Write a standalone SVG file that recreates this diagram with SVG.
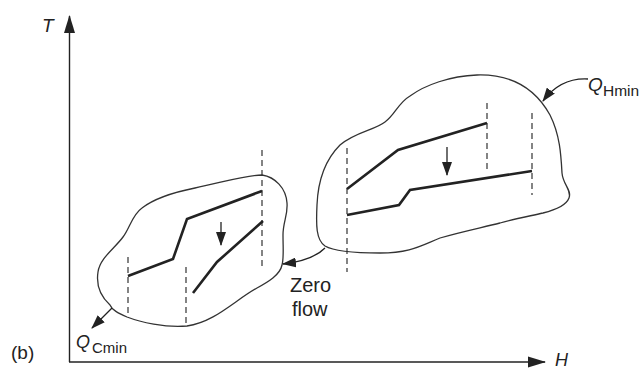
<svg xmlns="http://www.w3.org/2000/svg" width="644" height="370" viewBox="0 0 644 370">
<style>
.ax{stroke:#222;stroke-width:1.4;fill:none}
.blob{stroke:#333;stroke-width:1.3;fill:none}
.hot{stroke:#222;stroke-width:2.6;fill:none;stroke-linejoin:miter}
.dash{stroke:#333;stroke-width:1.2;stroke-dasharray:6,4;fill:none}
.thin{stroke:#222;stroke-width:1.3;fill:none}
text{font-family:"Liberation Sans",Arial,sans-serif;fill:#222}
.it{font-style:italic}
</style>
<defs>
<marker id="ah" markerWidth="14" markerHeight="10" refX="13" refY="5" orient="auto" markerUnits="userSpaceOnUse">
<path d="M0,0 L14,5 L0,10 Z" fill="#222"/>
</marker>
<marker id="ax" markerWidth="18" markerHeight="12" refX="17" refY="6" orient="auto" markerUnits="userSpaceOnUse">
<path d="M0,0.5 L18,6 L0,11.5 Z" fill="#222"/>
</marker>
</defs>
<g id="axes">
<path class="ax" d="M69.5,362 L69.5,16" marker-end="url(#ax)"/>
<path class="ax" d="M69,362 L545,362" marker-end="url(#ax)"/>
<text class="it" x="42" y="32" font-size="19">T</text>
<text class="it" x="555" y="366" font-size="18">H</text>
<text x="11" y="359" font-size="19">(b)</text>
</g>
<g id="cold-blob">
<path class="blob" d="M262,175 C275,177 286,188 287,203 C288,215 283,222 283,235 C283,248 284,258 282,265 C280,275 268,282 257,288 C235,300 215,322 187,326 C165,328 140,322 127,317 C118,313 112,310 110,305 C100,296 96,285 98,272 C100,258 115,248 123,237 C130,228 132,215 142,208 C155,198 175,192 195,188 C220,183 245,175 262,175 Z"/>
<path class="dash" d="M128,257 L128,317"/>
<path class="dash" d="M186,267 L186,326"/>
<path class="dash" d="M262,150 L262,266"/>
<path class="hot" d="M128,276 L173,259 L187,219 L262,191"/>
<path class="hot" d="M193,293 L217,262 L263,221"/>
<path class="thin" d="M221,222 L221,245" marker-end="url(#ah)"/>
</g>
<g id="hot-blob">
<path class="blob" d="M477,75 C510,74 535,88 550,115 C560,135 561,155 562,173 C563,185 572,190 569,198 C566,206 555,210 543,213 C525,217 510,220 500,223 C480,228 460,232 440,238 C420,246 410,253 380,253 C360,253 335,252 325,246 C316,240 316,225 317,205 C318,180 325,160 340,145 C355,132 375,130 385,122 C395,115 398,103 410,96 C425,85 450,76 477,75 Z"/>
<path class="dash" d="M347,148 L347,272"/>
<path class="dash" d="M487,103 L487,173"/>
<path class="dash" d="M532,113 L532,195"/>
<path class="hot" d="M347,189 L398,150 L487,123"/>
<path class="hot" d="M347,215 L399,205 L410,190 L532,171"/>
<path class="thin" d="M447,147 L447,175" marker-end="url(#ah)"/>
</g>
<g id="connectors">
<path class="thin" d="M325,248 C315,258 300,262 283,264" marker-end="url(#ah)"/>
<path class="thin" d="M588,79 C570,78 555,85 543,101" marker-end="url(#ah)"/>
<path class="thin" d="M112,308 L92,328" marker-end="url(#ah)"/>
</g>
<g id="labels">
<text x="290" y="292" font-size="20">Zero</text>
<text x="292" y="316" font-size="20">flow</text>
<text class="it" x="588" y="91" font-size="19">Q</text>
<text x="603" y="96" font-size="15.5">Hmin</text>
<text class="it" x="76" y="348" font-size="18">Q</text>
<text x="92" y="353" font-size="15">Cmin</text>
</g>
</svg>
